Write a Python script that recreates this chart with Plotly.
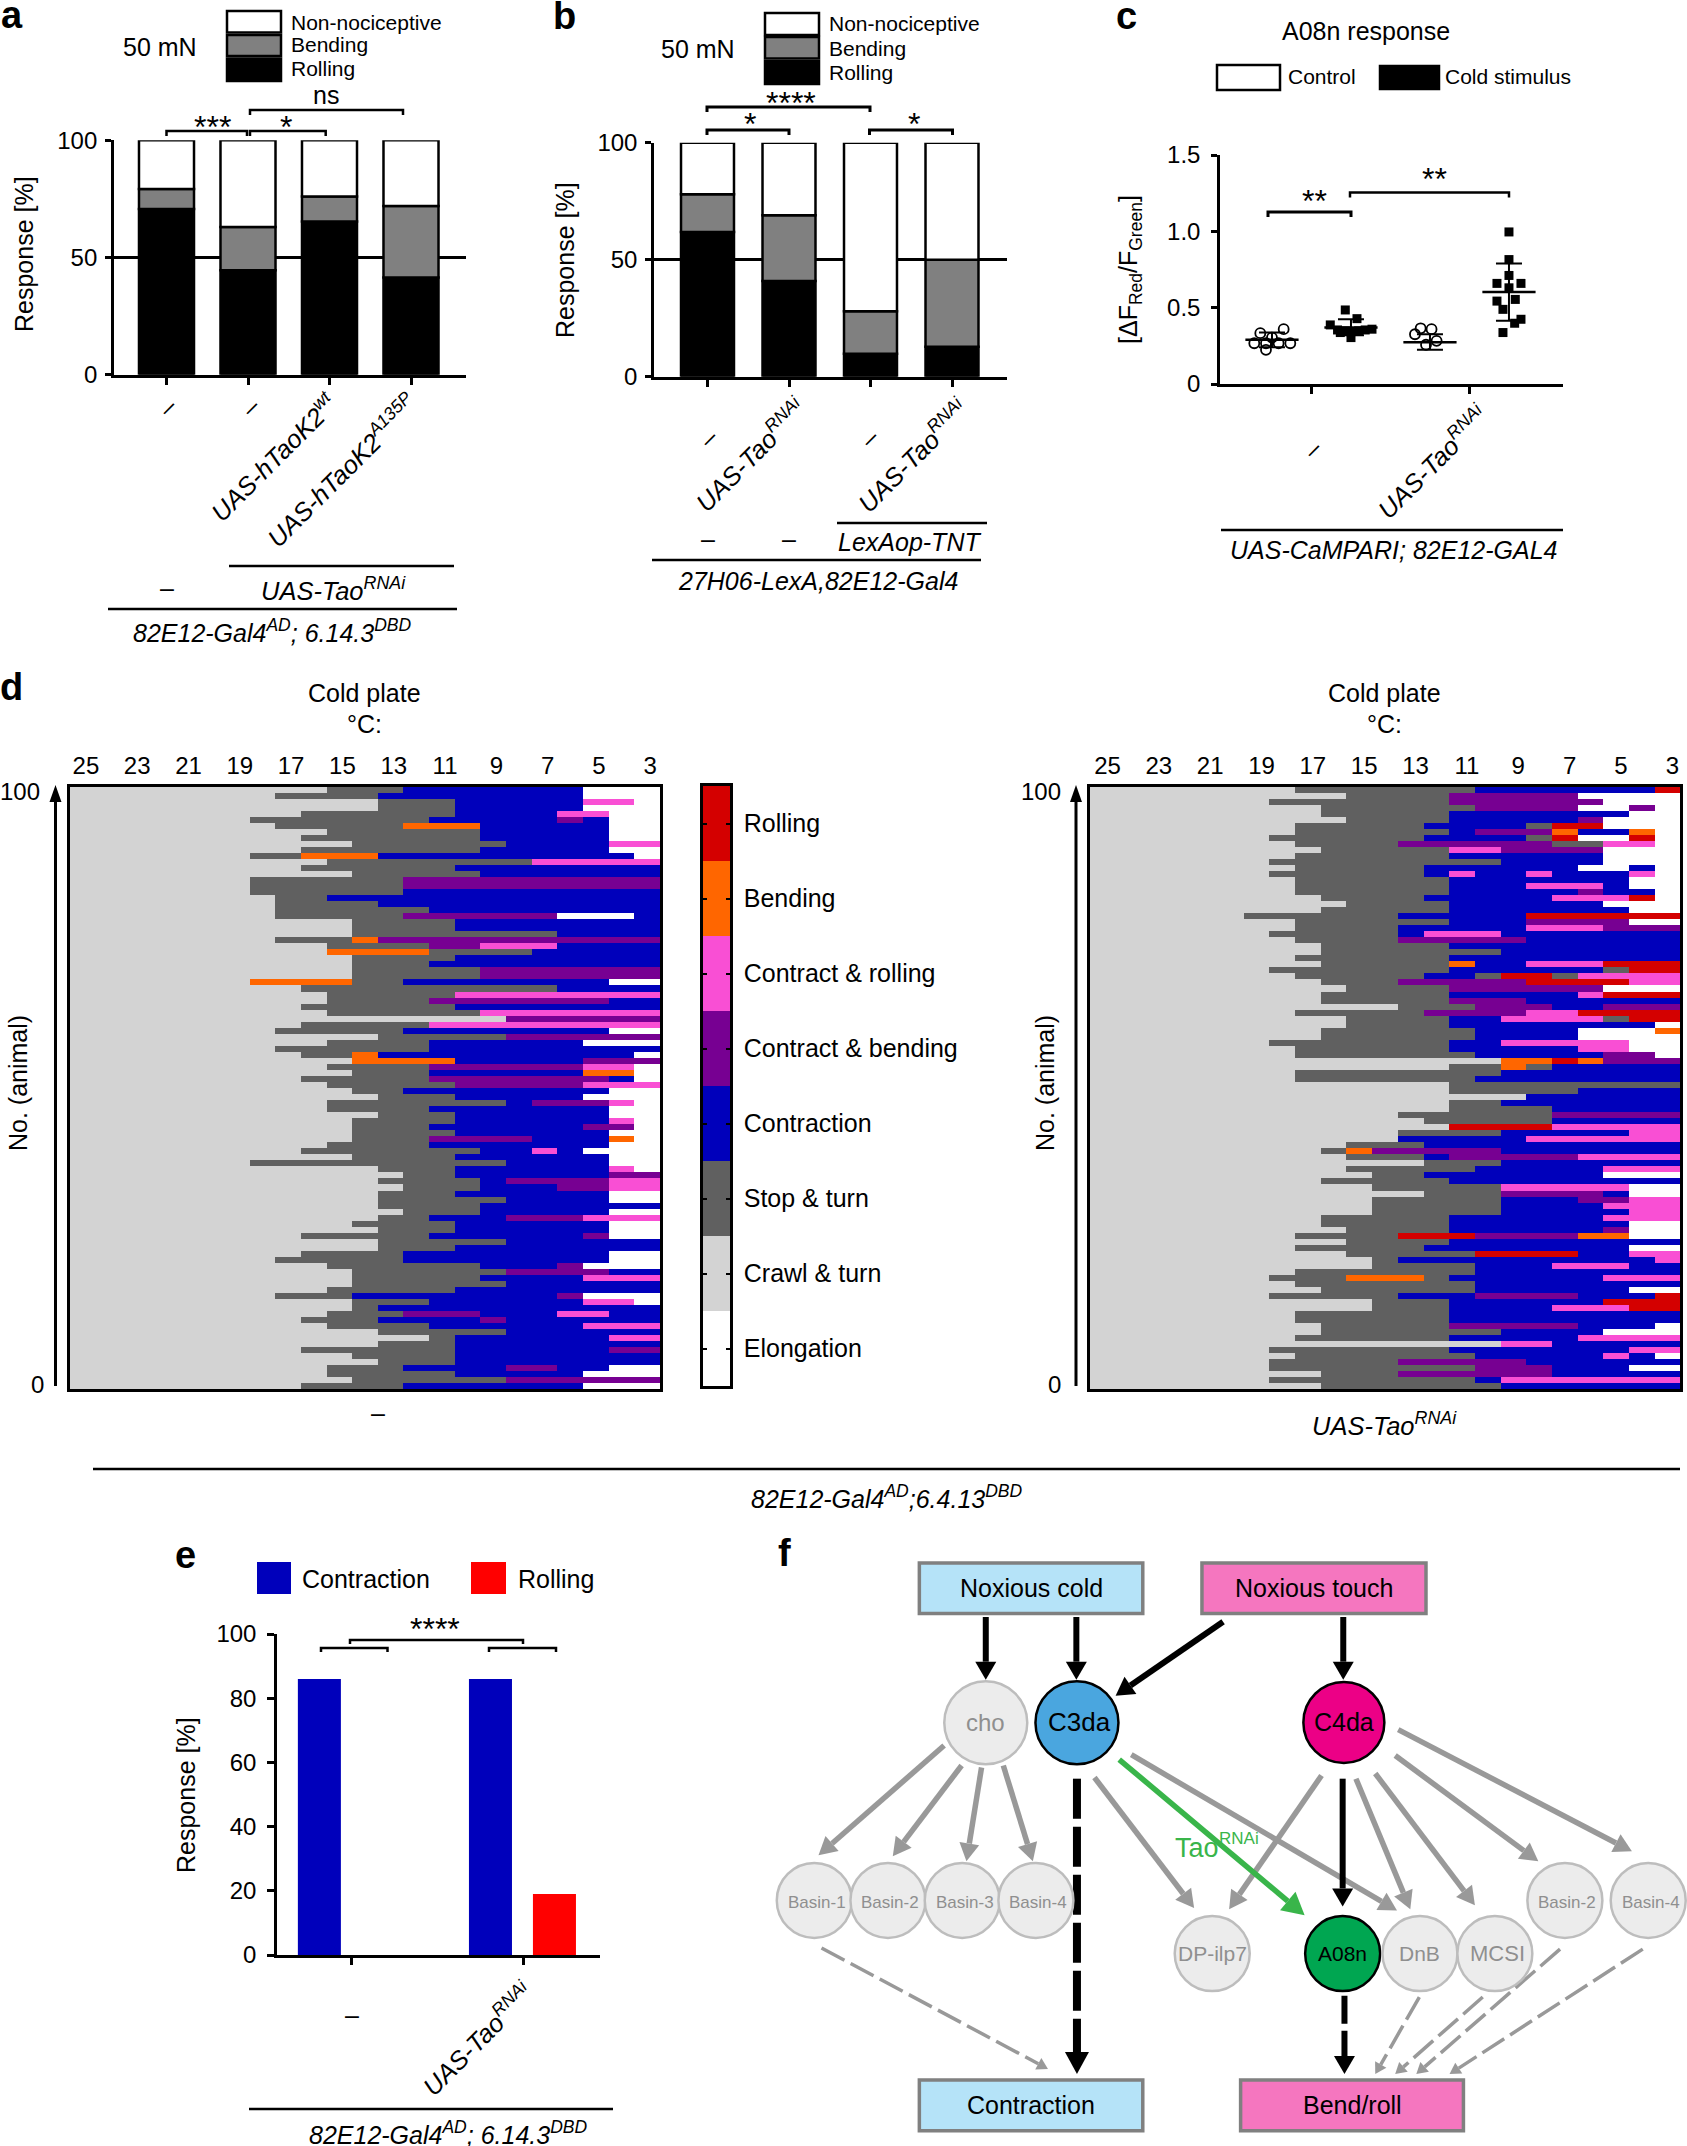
import plotly.graph_objects as go

W, H = 1687, 2146
FONT = "Liberation Sans"

# ---------- data ----------
A_ROLLING = [70.7, 44.6, 65.4, 41.5]
A_BENDING = [8.5, 18.4, 10.6, 30.5]
A_NON = [20.8, 37.0, 24.0, 28.0]
B_ROLLING = [61.8, 40.9, 9.8, 12.8]
B_BENDING = [16.2, 28.1, 18.2, 37.2]
B_NON = [22.0, 31.0, 72.0, 50.0]

C_G1_X = [0.852, 1.148, 1.0, 0.776, 0.924, 1.084, 1.232, 0.924]
C_G1_Y = [0.333, 0.359, 0.304, 0.267, 0.267, 0.267, 0.267, 0.224]
C_G2_X = [1.928, 2.076, 1.738, 1.83, 1.928, 2.0, 2.097, 2.18, 2.266, 2.0, 1.865]
C_G2_Y = [0.485, 0.428, 0.387, 0.354, 0.348, 0.343, 0.348, 0.354, 0.359, 0.304, 0.337]
C_G3_X = [2.882, 3.02, 2.81, 3.084, 2.95]
C_G3_Y = [0.365, 0.359, 0.326, 0.283, 0.257]
C_G4_X = [4.0, 4.0, 4.0, 3.848, 4.152, 4.0, 3.848, 4.08, 3.924, 4.152, 4.072, 3.924]
C_G4_Y = [0.996, 0.815, 0.711, 0.659, 0.659, 0.63, 0.543, 0.554, 0.489, 0.424, 0.398, 0.337]
C_MEAN_X = [1, 2, 3, 4]
C_MEAN = [0.29, 0.37, 0.274, 0.602]
C_SD_UP = [0.047, 0.054, 0.052, 0.187]
C_SD_DOWN = [0.05, 0.05, 0.05, 0.187]

E_CONTRACTION = [86, 86]
E_ROLLING = [0, 19]

STATE_LABELS = ["Elongation", "Crawl & turn", "Stop & turn", "Contraction",
                "Contract & bending", "Contract & rolling", "Bending", "Rolling"]
STATE_COLORS = ["#FFFFFF", "#D3D3D3", "#606060", "#0000BB",
                "#770092", "#F94FD4", "#FF6600", "#D40000"]
STATE_KEYS = "WCSBPMOR"
TEMPS = list(range(25, 2, -1))
TEMP_LABELS = TEMPS[::2]

# each row: state per 1 deg C bin from 18 to 3 deg C (warmer bins are all crawl & turn)
LEFT_ROWS = [
"CCCSSSBBBBBBBWWW","CSSSSBBBBBBBBWWW","CCCCCSSSBBBBBMMW","CCCCCSSSBBBBBWWW","CCSSSSSSBBBBMMWW",
"SSSSSSSBBBBBPBWW","CSSSSSOOOBBBBBWW","CCCSSSSSSBBBBBWW","CCSSSSSSSBBBBBWW","CCCCSSSSSSBBBBMM",
"CCSSSSSSSBBBBBWW","SSOOOBBBBBBBBBBW","CCCSSSSSSSSMMMMM","CCSSSSSSBBBBBBBB","CCCCSSSSSBBBBBBB",
"SSSSSSPPPPPPPPPP","SSSSSSPPPPPPPPPP","SSSSSSBBBBBBBBBB","CSSBBBBBBBBBBBBB","CSSSSBBBBBBBBBBB",
"CSSSSSSBBBBBBBBB","CSSSSSPPPPPPWWWB","CCCCSSSSBBBBBBBB","CCCCSSSSBBBBBBBB","CCCCSSSSSSSSBBBB",
"CSSSOPPPPPPPPPPP","CCCSSSSPPMMMBBBB","CCCOOOOSSSSBBBBB","CCCCSSSSBBBBBBBB","CCCCSSSBBBBBBBBB",
"CCCCSSSSSPPPPPPP","CCCCSSSSSPPPPPPP","OOOOSSBBBBBBBBWW","CCSSSSSSSSSSBBBB","CCCSSSSSMMMMMMMM",
"CCCSSSSPPPPPPPBB","CCSSSSSSBBBBBBBB","CCCSSSSSSMMMMMMM","CCCCCCCCCCPPPPPP","CCSSSSSMMMMMMMMM",
"CSSSSSBBBBBBBBWW","CCCCCSSSSSPPPPPP","CCCSSSSBBBBBBWWW","CSSSSSSBBBBBBBBB","CCSSOBBBBBBBBBBW",
"CCCCOOOOBBBBBPPP","CCCSSSSPPPPPPMMW","CCCCSSSBBBBBBOOW","CCSSSSSPPPPPPPBW","CCCSSSSSPPPPPMMM",
"CCCCSSBBBBBBBBWW","CCCCCSSSBBBBBWWW","CCCSSSSSSSBPPPMW","CCCSSSSBBBBBBBWW","CCCCCSSSBBBBBBWW",
"CCCCSSSSBBBBBBMW","CCCCSSSBBBBBBPPW","CCCCSSSSBBBBBBWW","CCCCSSSPPPPBBBOW","CCCSSSSBBBBBBBWW",
"CCSSSSSSSBBMBWWW","CCCCSSSSBBBBBBWW","SSSSSSSSSSBBBBWW","CCCCCSSSBBBBBBMW","CCCCCCSSBBBBBBPP",
"CCCCCSSSSBPPPPMM","CCCCCCSSSBBBPPMM","CCCCCSSSBBBBBBWW","CCCCCSSSSSBBBBWW","CCCCCSSSSBBBBBBB",
"CCCCCCSSSBBBBBWW","CCCCCSSBBBPPPMMM","CCCCSSSSBBBBBBWW","CCCCCSSSBBBBBBWW","CCSSSSSBBBBBBPWW",
"CCCCCSSSSSBBBBBB","CCCCCSSSBBBBBBBB","CCSSSSBBBBBBBBWW","CSSSSSBBBBBBBBWW","CCCSSSSSSBBBPWWW",
"CCCCSSSSSSPPPPBB","CCCCSSSSSBBBBMMM","CCCCSSSSSSBBBBBB","CCCSSSSSBBBBBBBB","CSSSBBBBBBBBPWWW",
"CCCCSSSBBBBBBMMW","CCCCSBBBBBBBBBBB","CCCSSSPPPBBBMMBB","CCSSSBBBBPBBBBBB","CCCSSSSBBBBBBMMM",
"CCCCCSSSSSBBBBBB","CCCCCCCSBBBBBBMM","CCCCCSSSBBBBBBBB","CCSSSSSSBBBBBBPP","CCCCSSSSBBBBBBBB",
"CCCCCSSSBBBBBBBB","CCCSSSBBBBPPBBWW","CCCSSSSSBBBBBWWW","CCCCSSSSSSPPPPPP","CCSSSSBBBBBBBWWW",
]
RIGHT_ROWS = [
"CSSSSSSSBBBBBBBR","CCCSSSSPPPPPWWWW","SSSSSSSPPPPPPWWW","CCSSSSSSPPPPWWPW","CCSSSSSBBBBBBBWW",
"CCCSSSSBBBBBPWWW","CSSSSSBBBBSRRWWW","CSSSSSSBPPPOBBOW","SSSSSSBBBBSRWWRW","CSSSSPPPPPPSSMMW",
"CCSSSSSMMPPPPWWW","CSSSSSSBBBBBBWWW","SSSSSSSSSBBBBWWW","CSSSSSBBBBBBWWBW","SSSSSSBMBBMBBBMW",
"CSSSSSSBBBBBBBWW","CSSSSSSBBBMMMBWW","CSSSSSSBBBBBPBBW","CCSSSSBBBBBMMMRW","CCCSSSSBBBBBBWWW",
"CCSSSSSBBBBBBBWW","SSSSSBBBBBRRRRRR","CSSSSSSBBBPPPPWW","CSSSSBBBBBMMMPPP","SSSSSBMMMBBBBBBB",
"CSSSSPPPPPBBBBBB","CCSSSSSBBBBBBBBB","CCSSSSSSSBBBBBBB","CSSSSSSBBBBBBBBB","CCSSSSSOBBMMMRRR",
"SSSSSSSBBBBBBSRR","CSSSSSBBSRRSMMMM","CCSSSPPPPPRRRRMM","CCCSSSSPPPPPPWWW","CCSSSSSBBBBBMRRR",
"CCSSSSSPPPBBBBBB","CCCCCSSSPPPBBPPP","CSSSSSPPPPMMRRRR","CCCSSSSBBMMMMSRR","CCCSSSSBBBBBBBBW",
"CCSSSSSSBBBBWWWO","CCSSSSSSBBBBWWWW","SSSSSSSBBMMMMMWW","CSSSSSSBBBBBMMWW","CSSSSSSSBBBBBPPW",
"CCCCCCCCCOOROPPP","CCCCCCCSSOSBBBBB","CSSSSSSSSBBBBBBB","CSSSSSSSBBBBBBBB","CCCCCCCSSSSSSSSS",
"CCCCCCCSSSSSBBBB","CCCCCCCCCCBBBBBB","CCCCCCCSSBBBBBBB","CCCCCCCSSSSBBBBB","CCCCCSSSSSSPPPPP",
"CCCCCCSSSSSBBBBB","CCCCCCCRRRRMMMMM","CCCCCSSSSBBBBBMM","CCCCCBBBBBMMMMMM","CCCSSSBBBBBBBBBB",
"CCSOPPPPPBBBBBBB","CCCSSSBPPPPPMMMM","CCCCCCSSSBBBBBBB","CCCSSSSSBBBBBMMM","CCCCSSBBBBBBBWWW",
"CCSSSSSBBBBBBBBB","CCCCSSSSSMMMMMWW","CCCCCCSSSPPPPBWW","CCCCSSSSSBBBPPMM","CCCCSSSSSBBBBMMM",
"CCCCSSSSSBBBBBMM","CCSSSSSBBBBBBMMM","CCSSSSSBBBBBBBWW","CCCSSSSBBBBBBPWW","CSSSSRRRPPPPOOWW",
"CCCSSSSBBBBBBBBB","CSSSSSBBBBBBBBWW","CCCSSSSSRRRRBBMM","CCCCSBBBBBBBBBBM","CCCCSSSSBBBMMMBB",
"CSSSSSSSBBBBBBBB","SSSOOOSBBBBBBMMM","CSSSSSSSBBBBBBBB","CCSSSSSSBBBBBBWW","SSSSSBBBPPPPBBBR",
"CCCCSSSBBBBBBRRR","CCCCSSSBBBBMMMRR","CSSSSSSBBBBBBBBB","CSSSSSSBBBBBBBBB","CCSSSSSPPPPPBBBW",
"CCSSSSSSSBBBBWWW","CSSSSSSBBBBBMMMM","CCCCCCCCCMMBBBBB","SSSSSSSBBBBBBBMM","CSSSSSSSBBBBBMBW",
"SSSSSPPPPPBBBBBB","SSSSSSSSPPPBBBWW","CCSSSPPPPPPBBBBB","SSSSSSSSBMMMMMMM","CCSSSSSSSBBBBBBB",
]
RIGHT_ROWS_STOP_AT_19C = [21]


def build_z(rows, stop_rows=()):
    z = []
    for i, r in enumerate(rows):
        full = "C" * 6 + ("S" if i in stop_rows else "C") + r
        z.append([STATE_KEYS.index(c) for c in full.ljust(23, "W")[:23]])
    return z


# ---------- helpers (page pixels -> paper) ----------
def fx(x):
    return x / W


def fy(y):
    return 1 - y / H


def dx(a, b):
    return [a / W, b / W]


def dy(top, bot):
    return [1 - bot / H, 1 - top / H]


shapes, notes = [], []
TXT = 25


def T(x, y, text, size=TXT, color="black", angle=0, anchor="center", bold=False):
    notes.append(dict(x=fx(x), y=fy(y), xref="paper", yref="paper", text=("<b>%s</b>" % text) if bold else text,
                      showarrow=False, xanchor=anchor, yanchor="middle", textangle=angle,
                      font=dict(family=FONT, size=size, color=color)))


def L(x0, y0, x1, y1, w=2.5, color="black", dash=None):
    shapes.append(dict(type="line", xref="paper", yref="paper", x0=fx(x0), y0=fy(y0), x1=fx(x1), y1=fy(y1),
                       line=dict(color=color, width=w, dash=dash or "solid")))


def R(x0, y0, x1, y1, fill, lw=2.5, color="black"):
    shapes.append(dict(type="rect", xref="paper", yref="paper", x0=fx(x0), y0=fy(y0), x1=fx(x1), y1=fy(y1),
                       fillcolor=fill, line=dict(color=color, width=lw)))


def E(cx, cy, rx, ry, fill, lw, color):
    shapes.append(dict(type="circle", xref="paper", yref="paper", x0=fx(cx - rx), x1=fx(cx + rx),
                       y0=fy(cy + ry), y1=fy(cy - ry), fillcolor=fill, line=dict(color=color, width=lw)))


def bracket(x0, x1, y, t=5, w=2.5):
    p = "M %f %f L %f %f L %f %f L %f %f" % (fx(x0), fy(y + t), fx(x0), fy(y), fx(x1), fy(y), fx(x1), fy(y + t))
    shapes.append(dict(type="path", xref="paper", yref="paper", path=p, line=dict(color="black", width=w)))


def arrow(x0, y0, x1, y1, w, color, hl, hw, dash=None):
    d = ((x1 - x0) ** 2 + (y1 - y0) ** 2) ** 0.5
    ux, uy = (x1 - x0) / d, (y1 - y0) / d
    bx, by = x1 - ux * hl, y1 - uy * hl
    L(x0, y0, bx, by, w, color, dash)
    px, py = -uy, ux
    p = "M %f %f L %f %f L %f %f Z" % (fx(x1), fy(y1), fx(bx + px * hw / 2), fy(by + py * hw / 2),
                                       fx(bx - px * hw / 2), fy(by - py * hw / 2))
    shapes.append(dict(type="path", xref="paper", yref="paper", path=p, fillcolor=color, line=dict(width=0)))


def Z(x, y):
    return 740 + x / 1.656, 1520 + y / 2.505


def zarrow(a, b, c, d, w, color, hl, hw, dash=None):
    p, q = Z(a, b), Z(c, d)
    arrow(p[0], p[1], q[0], q[1], w, color, hl, hw, dash)


def zbox(a, b, c, d, fill, text, size):
    p, q = Z(a, b), Z(c, d)
    R(p[0], p[1], q[0], q[1], fill, 3.5, "#808080")
    T((p[0] + q[0]) / 2, (p[1] + q[1]) / 2, text, size)


def znode(a, b, fill, stroke, text, size, color, r=41.5, lw=2, tdx=0, tdy=0):
    p = Z(a, b)
    E(p[0], p[1], r, r, fill, lw, stroke)
    T(p[0] + tdx, p[1] + tdy, text, size, color)


fig = go.Figure()


def axis(dom, **kw):
    base = dict(domain=dom, showgrid=False, zeroline=False, automargin=False, linecolor="black", linewidth=2.5,
                tickcolor="black", tickwidth=2.5, tickfont=dict(family=FONT, size=24, color="black"))
    base.update(kw)
    return base


layout_axes = {}

# ---------- panels a, b ----------
for name, xa, ya, centers0, spacing, x0, x1, top, bot, bw, vals, lst in [
    ("a", "x", "y", 166.5, 81.5, 113.8, 466, 140.3, 374.7, 0.675, (A_ROLLING, A_BENDING, A_NON), 6),
    ("b", "x2", "y2", 707.5, 81.5, 654, 1007, 142.7, 376.7, 0.65, (B_ROLLING, B_BENDING, B_NON), 6),
]:
    bases = [[0, 0, 0, 0], list(vals[0]), [r + b for r, b in zip(vals[0], vals[1])]]
    for v, c, base in zip(vals, ["#000000", "#808080", "#FFFFFF"], bases):
        fig.add_trace(go.Bar(x=[0, 1, 2, 3], y=v, base=base, width=bw, xaxis=xa, yaxis=ya,
                             marker=dict(color=c, line=dict(color="black", width=2.5)), hoverinfo="skip"))
    rng = [(x0 - centers0) / spacing, (x1 - centers0) / spacing]
    kx = "xaxis" + xa[1:]
    ky = "yaxis" + ya[1:]
    layout_axes[kx] = axis(dx(x0, x1), range=rng, tickvals=[0, 1, 2, 3], ticks="outside", ticklen=8,
                           showticklabels=False, showline=True, anchor=ya)
    layout_axes[ky] = axis(dy(top, bot), range=[0, 100], tickvals=[0, 50, 100], ticks="outside", ticklen=lst,
                           showgrid=True, gridcolor="black", gridwidth=2.5, showline=True, anchor=xa,
                           ticklabelstandoff=3)

# ---------- panel c ----------
for xs, ys, sym in [(C_G1_X, C_G1_Y, "circle-open"), (C_G2_X, C_G2_Y, "square"),
                    (C_G3_X, C_G3_Y, "circle-open"), (C_G4_X, C_G4_Y, "square")]:
    fig.add_trace(go.Scatter(x=xs, y=ys, mode="markers", xaxis="x3", yaxis="y3", hoverinfo="skip",
                             marker=dict(symbol=sym, size=9 if sym == "square" else 10, color="black",
                                         line=dict(color="black", width=1.8 if sym != "square" else 0))))
fig.add_trace(go.Scatter(x=C_MEAN_X, y=C_MEAN, mode="markers", xaxis="x3", yaxis="y3", hoverinfo="skip",
                         marker=dict(symbol="line-ew", size=38, color="black", line=dict(color="black", width=2.5)),
                         error_y=dict(type="data", symmetric=False, array=C_SD_UP, arrayminus=C_SD_DOWN,
                                      color="black", thickness=2, width=13)))
layout_axes["xaxis3"] = axis(dx(1220, 1563), range=[0.342, 4.684], tickvals=[1.5, 3.5], ticks="outside", ticklen=7,
                             showticklabels=False, showline=True, anchor="y3")
layout_axes["yaxis3"] = axis(dy(155, 384), range=[0, 1.5], tickvals=[0, 0.5, 1, 1.5],
                             ticktext=["0", "0.5", "1.0", "1.5"], ticks="outside", ticklen=6, showline=True,
                             anchor="x3", ticklabelstandoff=6)

# ---------- panel d ----------
CS = [[i / 8, c] for i, c in enumerate(STATE_COLORS) for i in (i, i + 1)]
for rows, stop, xa, ya, x0, x1, shift in [(LEFT_ROWS, (), "x4", "y4", 70, 660, 0.12),
                                          (RIGHT_ROWS, RIGHT_ROWS_STOP_AT_19C, "x5", "y5", 1089.5, 1680, 0.2)]:
    fig.add_trace(go.Heatmap(z=build_z(rows, stop), x=TEMPS, y=[99.5 - i for i in range(100)], xaxis=xa, yaxis=ya,
                             colorscale=CS, zmin=-0.5, zmax=7.5, showscale=False, hoverinfo="skip"))
    layout_axes["xaxis" + xa[1:]] = axis(dx(x0, x1), range=[25.5, 2.5], tickvals=[t - shift for t in TEMP_LABELS],
                                         ticktext=[str(t) for t in TEMP_LABELS], side="top", ticks="",
                                         showline=True, mirror=True, anchor=ya)
    layout_axes["yaxis" + ya[1:]] = axis(dy(786.5, 1389), range=[0, 100], showticklabels=False, ticks="",
                                         showline=True, mirror=True, anchor=xa)

fig.add_trace(go.Heatmap(z=[[i] for i in range(8)], y=list(range(8)), x=[0], xaxis="x6", yaxis="y6",
                         colorscale=CS, zmin=-0.5, zmax=7.5, showscale=False, hoverinfo="skip"))
layout_axes["xaxis6"] = axis(dx(703, 730), range=[-0.5, 0.5], showticklabels=False, ticks="", showline=True,
                             mirror=True, anchor="y6")
layout_axes["yaxis6"] = axis(dy(786, 1386), range=[-0.5, 7.5], tickvals=list(range(8)), ticktext=STATE_LABELS,
                             side="right", ticks="inside", ticklen=4, tickwidth=1.5, mirror="ticks", showline=True,
                             anchor="x6", ticklabelstandoff=6, tickfont=dict(family=FONT, size=25, color="black"))

# ---------- panel e ----------
fig.add_trace(go.Bar(x=[0, 1], y=E_CONTRACTION, width=0.2515, offset=-0.316, xaxis="x7", yaxis="y7",
                     marker=dict(color="#0000BB", line=dict(width=0)), hoverinfo="skip"))
fig.add_trace(go.Bar(x=[0, 1], y=E_ROLLING, width=0.2515, offset=0.058, xaxis="x7", yaxis="y7",
                     marker=dict(color="#FF0000", line=dict(width=0)), hoverinfo="skip"))
layout_axes["xaxis7"] = axis(dx(277, 600), range=[-0.438, 1.45], tickvals=[0, 1], ticks="outside", ticklen=7,
                             showticklabels=False, showline=True, anchor="y7")
layout_axes["yaxis7"] = axis(dy(1634, 1955), range=[0, 100], tickvals=[0, 20, 40, 60, 80, 100], ticks="outside",
                             ticklen=7, showline=True, anchor="x7", ticklabelstandoff=6)

# ---------- texts and annotations ----------
T(12, 15, "a", 38, bold=True)
T(564, 16, "b", 38, bold=True)
T(1126, 16, "c", 38, bold=True)
T(11, 687, "d", 38, bold=True)
T(185, 1555, "e", 38, bold=True)
T(784, 1553, "f", 38, bold=True)

RESP = "Response [%]"
T(24, 254, RESP, TXT, angle=-90)
T(565, 260, RESP, TXT, angle=-90)

T(160, 47, "50 mN")
for y0, y1, c, ty, label in [(11, 32.5, "white", 22, "Non-nociceptive"), (35, 56, "#808080", 45, "Bending"),
                             (58.5, 81, "black", 69, "Rolling")]:
    R(227, y0, 281, y1, c)
    T(289, ty, label, 21, anchor="left")
T(698, 49, "50 mN")
for y0, y1, c, ty, label in [(13, 35, "white", 24, "Non-nociceptive"), (37, 58.5, "#808080", 48, "Bending"),
                             (61, 84, "black", 72, "Rolling")]:
    R(765, y0, 819, y1, c)
    T(827, ty, label, 21, anchor="left")

STARS = 32
bracket(166.5, 247, 131)
bracket(250, 325.7, 131)
bracket(250, 403, 110)
T(212, 127, "***", STARS)
T(286, 127, "*", STARS)
T(326, 95, "ns")

bracket(707, 789, 130, w=3)
bracket(869.5, 952.5, 130, w=3)
bracket(707, 870, 107, w=3)
T(791, 103, "****", STARS)
T(750, 124, "*", STARS)
T(914, 124, "*", STARS)

TAO = "<i>UAS-Tao<sup>RNAi</sup></i>"
T(167, 407, "–", TXT, angle=-45)
T(250, 407, "–", TXT, angle=-45)
T(273, 457, "<i>UAS-hTaoK2<sup>wt</sup></i>", 25.5, angle=-45)
T(342, 470, "<i>UAS-hTaoK2<sup>A135P</sup></i>", 25.5, angle=-45)
L(229, 566, 454, 566)
T(167, 588, "–")
T(333, 589, TAO, 25.5)
L(108, 609, 457, 609)
T(272, 631, "<i>82E12-Gal4<sup>AD</sup>; 6.14.3<sup>DBD</sup></i>")

T(708, 438, "–", TXT, angle=-45)
T(869, 438, "–", TXT, angle=-45)
T(750, 455, TAO, 25.5, angle=-45)
T(913, 455, TAO, 25.5, angle=-45)
T(708, 539, "–")
T(789, 539, "–")
L(837, 523, 987, 523)
T(909, 542, "<i>LexAop-TNT</i>")
L(652, 560, 981, 560)
T(818, 581, "<i>27H06-LexA,82E12-Gal4</i>")

# c
T(1366, 31, "A08n response")
R(1217, 65, 1280, 90, "white")
T(1286, 76, "Control", 21, anchor="left")
R(1380, 66, 1439, 89, "black")
T(1443, 76, "Cold stimulus", 21, anchor="left")
T(1130, 270, "[ΔF<sub>Red</sub>/F<sub>Green</sub>]", TXT, angle=-90)
bracket(1268, 1351, 212, w=3)
bracket(1350, 1509, 192.5)
T(1314, 201, "**", STARS)
T(1434, 179, "**", STARS)
T(1312, 449, "–", TXT, angle=-45)
T(1432, 462, TAO, 25.5, angle=-45)
L(1221, 530, 1563, 530)
T(1393, 550, "<i>UAS-CaMPARI; 82E12-GAL4</i>")

# d
for cx, ax, hx, zx, lx in [(364, 55.5, 42, 46, 18), (1384, 1076, 1063, 1063, 1045)]:
    T(cx, 693, "Cold plate")
    T(cx, 724, "°C:")
    arrow(ax, 1386, ax, 785, 3, "black", 17, 12)
    T(hx, 791, "100", 24, anchor="right")
    T(zx, 1384, "0", 24, anchor="right")
    T(lx, 1083, "No. (animal)", TXT, angle=-90)
T(378, 1413, "–")
T(1384, 1424, TAO, 25.5)
L(93, 1469, 1680, 1469)
T(887, 1497, "<i>82E12-Gal4<sup>AD</sup>;6.4.13<sup>DBD</sup></i>")

# e
R(257, 1562, 291, 1594, "#0000BB", 0, "#0000BB")
T(300, 1579, "Contraction", TXT, anchor="left")
R(471, 1562, 506, 1594, "#FF0000", 0, "#FF0000")
T(516, 1579, "Rolling", TXT, anchor="left")
T(186, 1795, RESP, TXT, angle=-90)
bracket(321, 387.5, 1648, t=4)
bracket(489, 556, 1648, t=4)
bracket(350, 523, 1640, t=4)
T(435, 1629, "****", STARS)
T(352, 2015, "–")
T(477, 2039, TAO, 25.5, angle=-45)
L(249, 2109, 613, 2109)
T(448, 2133, "<i>82E12-Gal4<sup>AD</sup>; 6.14.3<sup>DBD</sup></i>")

# f: gray and thin arrows under nodes
GRAY = "#999999"
for a, b, c, d in [(338, 565, 130, 840), (367, 615, 253, 842), (400, 620, 375, 855), (436, 615, 485, 855),
                   (587, 645, 752, 972), (648, 588, 1088, 978), (963, 640, 810, 975), (1020, 648, 1110, 975),
                   (1052, 635, 1217, 965), (1085, 590, 1322, 855), (1090, 525, 1477, 830)]:
    zarrow(a, b, c, d, 5.5, GRAY, 18, 20)
for a, b, c, d in [(135, 1072, 510, 1375), (1125, 1195, 1052, 1388), (1230, 1195, 1085, 1388),
                   (1358, 1075, 1120, 1388), (1495, 1075, 1175, 1388)]:
    zarrow(a, b, c, d, 3.5, GRAY, 11, 13, "26px,7px")
zarrow(628, 600, 935, 990, 5.5, "#39B54A", 22, 24)
for a, b, c, d in [(407, 243, 407, 400), (557, 243, 557, 400), (800, 255, 622, 440), (999, 243, 999, 400)]:
    zarrow(a, b, c, d, 6, "black", 18, 21)
zarrow(998, 648, 998, 968, 6, "black", 18, 21)
zarrow(558, 648, 558, 1388, 8, "black", 22, 24, "40px,8px")
zarrow(1001, 1192, 1001, 1388, 6, "black", 18, 21, "28px,7px")

zbox(297, 108, 667, 234, "#B5E3F8", "Noxious cold", 25)
zbox(765, 108, 1136, 234, "#F576BF", "Noxious touch", 25)
zbox(297, 1403, 667, 1530, "#B5E3F8", "Contraction", 25)
zbox(829, 1403, 1198, 1530, "#F576BF", "Bend/roll", 25)

NG, SG, TG = "#ECECEC", "#BDBDBD", "#8F8F8F"
znode(407, 508, NG, SG, "cho", 24, TG, lw=2.5)
znode(558, 508, "#4AA6DF", "black", "C3da", 26, "black", lw=2.5, tdx=3, tdy=-1)
znode(1000, 507, "#EC0086", "black", "C4da", 25, "black", r=40.5, lw=2.5)
for a, name in [(123, "Basin-1"), (245, "Basin-2"), (368, "Basin-3"), (490, "Basin-4"),
                (1366, "Basin-2"), (1504, "Basin-4")]:
    znode(a, 953, NG, SG, name, 17, TG, r=37.5, lw=2.5, tdx=2.5, tdy=2)
znode(782, 1086, NG, SG, "DP-ilp7", 21, TG, r=37.5, lw=2.5)
znode(998, 1086, "#00A651", "black", "A08n", 21, "black", r=37.5, lw=2.5)
znode(1126, 1086, NG, SG, "DnB", 21, TG, r=37.5, lw=2.5)
znode(1250, 1086, NG, SG, "MCSI", 22, TG, r=37.5, lw=2.5, tdx=3)
p = Z(757, 822)
T(p[0], p[1], "Tao", 27, "#39B54A")
p = Z(827, 797)
T(p[0], p[1], "RNAi", 17, "#39B54A")

fig.update_layout(template="none", width=W, height=H, margin=dict(l=0, r=0, t=0, b=0, pad=0, autoexpand=False),
                  autosize=False, barmode="overlay", plot_bgcolor="white", paper_bgcolor="white", showlegend=False,
                  font=dict(family=FONT, size=24, color="black"), shapes=shapes, annotations=notes, **layout_axes)
fig.write_html("out.html", post_script="document.body.style.margin='0';", config=dict(displayModeBar=False))
